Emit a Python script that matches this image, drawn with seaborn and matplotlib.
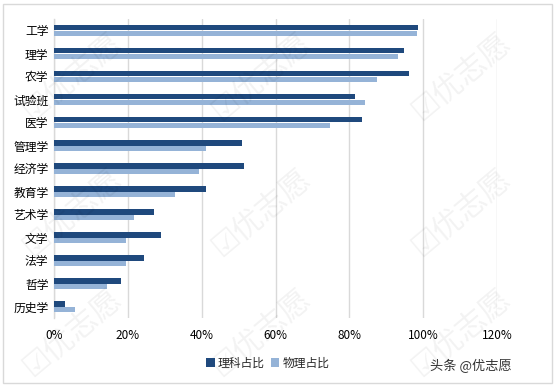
import matplotlib
matplotlib.use("Agg")
import matplotlib.pyplot as plt
import seaborn as sns
import pandas as pd
from matplotlib.patches import Rectangle
from matplotlib.ticker import FuncFormatter

categories = ["工学", "理学", "农学", "试验班", "医学", "管理学", "经济学",
              "教育学", "艺术学", "文学", "法学", "哲学", "历史学"]
like_sci = [98.5, 94.7, 96.2, 81.4, 83.5, 50.8, 51.6, 41.3, 27.1, 28.9, 24.5, 18.2, 2.9]
physics = [98.2, 93.2, 87.6, 84.2, 74.8, 41.2, 39.3, 32.7, 21.7, 19.5, 19.5, 14.3, 5.7]
series_names = ["理科占比", "物理占比"]
xticks = [0, 20, 40, 60, 80, 100, 120]

df = pd.DataFrame({
    "cat": categories * 2,
    "val": like_sci + physics,
    "series": [series_names[0]] * len(categories) + [series_names[1]] * len(categories),
})

sns.set_theme(style="white")
plt.rcParams["font.family"] = ["Noto Sans CJK SC", "DejaVu Sans"]

fig = plt.figure(figsize=(5.56, 3.87), dpi=100)
ax = fig.add_axes([54 / 556, 1 - 318 / 387, (497 - 54) / 556, (318 - 19) / 387])

# faint watermarks
for (x, y) in [(0.13, 0.80), (0.47, 0.80), (0.83, 0.80), (0.13, 0.45), (0.47, 0.45),
               (0.83, 0.45), (0.13, 0.14), (0.47, 0.14), (0.83, 0.14)]:
    fig.text(x, y, "☑优志愿", fontsize=22, color="#000000", alpha=0.05,
             rotation=40, ha="center", va="center",
             family=["Noto Sans CJK SC", "DejaVu Sans"], zorder=0)

sns.barplot(data=df, y="cat", x="val", hue="series", orient="h",
            palette=["#1F497D", "#95B3D7"], width=0.52, ax=ax, zorder=3,
            saturation=1, linewidth=0, edgecolor="none")

ax.set_xlim(0, 120)
ax.set_ylim(12.5, -0.5)
ax.set_xticks(xticks)
ax.xaxis.set_major_formatter(FuncFormatter(lambda v, p: f"{int(v)}%"))
ax.grid(axis="x", color="#D9D9D9", linewidth=1, zorder=0)
ax.grid(axis="y", visible=False)
ax.set_xlabel("")
ax.set_ylabel("")
for s in ["top", "right", "bottom"]:
    ax.spines[s].set_visible(False)
ax.spines["left"].set_color("#D9D9D9")
ax.spines["left"].set_linewidth(1)
ax.tick_params(axis="both", length=0, labelsize=8.5, colors="#000000")
ax.tick_params(axis="x", pad=8)
ax.tick_params(axis="y", pad=4)
ax.patch.set_alpha(0)

ax.legend_.remove()
handles, labels = ax.get_legend_handles_labels()
fig.legend(handles[:2], labels[:2], loc="center", bbox_to_anchor=(268 / 556, 1 - 363 / 387),
           ncol=2, frameon=False, fontsize=8.5, handlelength=0.7, handleheight=0.7,
           handletextpad=0.3, columnspacing=0.5)

fig.text(512 / 556, 1 - 366 / 387, "头条 @优志愿", fontsize=9.5, color="#333333",
         ha="right", va="center")

fig.patches.append(Rectangle((3 / 556, 4 / 387), 549 / 556, 379 / 387, transform=fig.transFigure,
                             fill=False, edgecolor="#D9D9D9", linewidth=1))

fig.savefig("out.png", dpi=100)
